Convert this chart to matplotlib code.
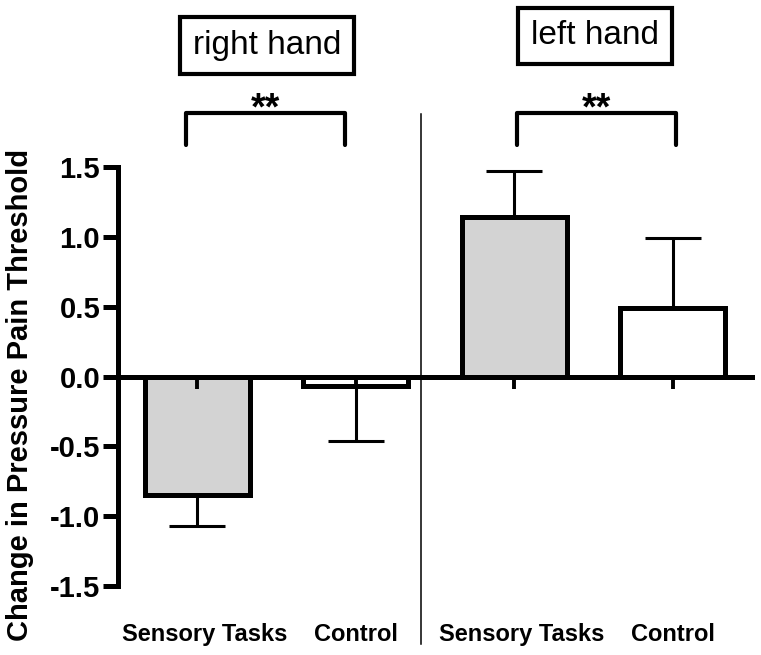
import matplotlib
matplotlib.use("Agg")
import matplotlib.pyplot as plt

plt.rcParams['font.family'] = ['Liberation Sans', 'DejaVu Sans']

# data
groups = ["right hand", "left hand"]
conditions = ["Sensory Tasks", "Control", "Sensory Tasks", "Control"]
means = [-0.85, -0.07, 1.145, 0.487]
sems = [0.217, 0.39, 0.325, 0.508]
fills = ["#d3d3d3", "white", "#d3d3d3", "white"]
yticks = [-1.5, -1.0, -0.5, 0.0, 0.5, 1.0, 1.5]
ytick_labels = ["-1.5", "-1.0", "-0.5", "0.0", "0.5", "1.0", "1.5"]
signif = ["**", "**"]

x = list(range(len(means)))
lower = [s if m < 0 else 0 for m, s in zip(means, sems)]
upper = [s if m >= 0 else 0 for m, s in zip(means, sems)]

fig = plt.figure(figsize=(7.61, 6.55), dpi=100)
ax = fig.add_axes([118 / 761, 69 / 655, 634 / 761, 419 / 655])

ax.bar(x, means, width=0.66, color=fills, edgecolor="black", linewidth=3.6, zorder=1)
ax.errorbar(x, means, yerr=[lower, upper], fmt="none", ecolor="black",
            elinewidth=2.2, capsize=20, capthick=2.2, zorder=0.9)

ax.set_xlim(-0.5, 3.5)
ax.set_ylim(-1.5, 1.5)
ax.spines["top"].set_visible(False)
ax.spines["right"].set_visible(False)
ax.spines["bottom"].set_position(("data", 0))
ax.spines["left"].set_linewidth(3.6)
ax.spines["bottom"].set_linewidth(3.6)

ax.set_yticks(yticks)
ax.set_yticklabels(ytick_labels, fontsize=21, fontweight="bold")
ax.tick_params(axis="y", length=10.8, width=3.6, pad=2)
ax.set_xticks(x)
ax.set_xticklabels([])
ax.tick_params(axis="x", direction="out", length=8.6, width=2.8)

# category labels under the plot
for xi, lab in zip(x, conditions):
    ax.text(xi + (0.05 if lab.startswith("Sensory") else 0), -1.85, lab,
            ha="center", va="center", fontsize=17, fontweight="bold", clip_on=False)

fig.text(0.026, 0.397, "Change in Pressure Pain Threshold", rotation=90,
         ha="center", va="center", fontsize=21, fontweight="bold")

# divider between hands
ax.plot([1.41, 1.41], [1.876, -1.918], color="black", lw=1.1, clip_on=False)

# group titles in boxes
box_x = [0.44, 2.51]
box_y = [2.37, 2.44]
for gx, gy, g in zip(box_x, box_y, groups):
    ax.text(gx, gy, g, ha="center", va="center", fontsize=24, clip_on=False,
            bbox=dict(boxstyle="square,pad=0.38", facecolor="white",
                      edgecolor="black", linewidth=3))

# significance brackets
pairs = [(0, 1), (2, 3)]
for (a, b), star in zip(pairs, signif):
    xa, xb = x[a] - 0.07, x[b] - 0.07
    if a == 2:
        xa, xb = x[a] + 0.02, x[b] + 0.02
    ax.plot([xa, xa, xb, xb], [1.66, 1.89, 1.89, 1.66], color="black",
            lw=3, clip_on=False, solid_capstyle="round")
    ax.text((xa + xb) / 2, 1.84, star, ha="center", va="baseline",
            fontsize=27, fontweight="bold", clip_on=False)

fig.savefig("out.png", dpi=100)
